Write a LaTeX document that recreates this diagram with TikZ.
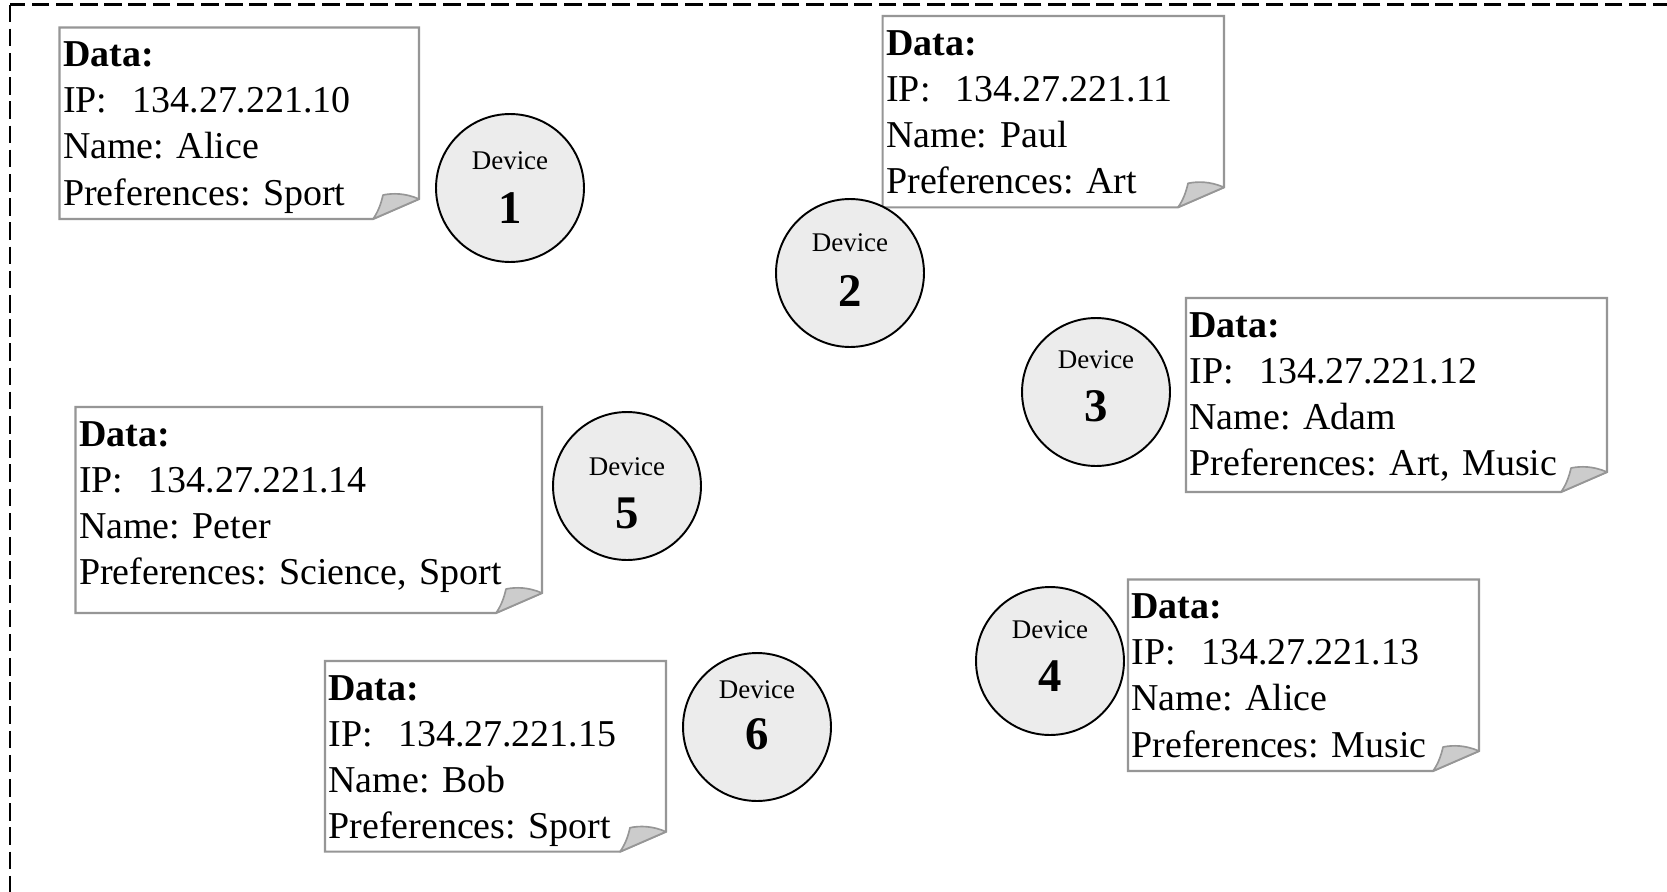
\documentclass[tikz,border=0pt]{standalone}
\usepackage{fontspec}
\setmainfont{Liberation Serif}
\frenchspacing
\definecolor{notegray}{RGB}{150,150,150}
\definecolor{foldgray}{RGB}{204,204,204}
\definecolor{devfill}{RGB}{236,236,236}

% A data sheet with a curled lower right corner:
% #1 name, #2 left, #3 top, #4 right, #5 bottom, #6 contents
\newcommand\datanote[6]{%
  \draw[noteline] (#2,#3) -- (#4,#3) -- (#4,#5-20) -- (#4-46,#5) -- (#2,#5) -- cycle;
  \filldraw[notefold] (#4,#5-20) .. controls (#4-14,#5-26) and (#4-26,#5-26) .. (#4-36,#5-24)
     .. controls (#4-38,#5-15) and (#4-41,#5-7) .. (#4-46,#5) -- cycle;
  \node[notetext] (#1) at (#2+3,#3+39) {#6};
}
% A device: circle with its caption and number
% #1 name, #2 x, #3 y, #4 number, #5 caption raise, #6 number raise
\newcommand\device[6]{%
  \node[devcircle] (#1) at (#2,#3) {};
  \node[devword] (#1-word) at ([yshift=#5]#1.center) {Device};
  \node[devnum] (#1-num) at ([yshift=#6]#1.center) {#4};
}

\begin{document}
\begin{tikzpicture}[x=0.3636pt,y=-0.3636pt,
  frame/.style={draw=black,line width=0.75pt,dash pattern=on 6.4pt off 2.4pt},
  noteline/.style={draw=notegray,line width=0.75pt,fill=white,line join=miter},
  notefold/.style={draw=notegray,line width=0.6pt,fill=foldgray,line join=round},
  notetext/.style={anchor=base west,inner sep=0pt,align=left,text width=180pt,
    font=\fontsize{13.8}{16.8}\selectfont},
  devcircle/.style={circle,draw=black,line width=0.7pt,fill=devfill,
    minimum size=53.8pt,inner sep=0pt},
  devword/.style={anchor=base,inner sep=0pt,font=\fontsize{9.8}{11}\selectfont},
  devnum/.style={anchor=base,inner sep=0pt,font=\fontsize{17}{20}\selectfont\bfseries},
]
\useasboundingbox (0,0) rectangle (1667,891);
\clip (0,0) rectangle (1667,891);
\fill[white] (0,0) rectangle (1667,891);

% dashed enclosure, running past the right and bottom edges
\draw[frame] (10,4.5) rectangle (1720,940);

\datanote{n1}{59.5}{27.5}{419}{219}{\textbf{Data:}\\IP:\ \ 134.27.221.10\\Name: Alice\\Preferences: Sport}
\datanote{n2}{882.7}{16}{1224}{207.3}{\textbf{Data:}\\IP:\ \ 134.27.221.11\\Name: Paul\\Preferences: Art}
\datanote{n3}{1186}{298}{1607}{492}{\textbf{Data:}\\IP:\ \ 134.27.221.12\\Name: Adam\\Preferences: Art, Music}
\datanote{n4}{1128}{579.5}{1479}{771}{\textbf{Data:}\\IP:\ \ 134.27.221.13\\Name: Alice\\Preferences: Music}
\datanote{n5}{75.5}{407}{542}{613}{\textbf{Data:}\\IP:\ \ 134.27.221.14\\Name: Peter\\Preferences: Science, Sport}
\datanote{n6}{325}{661}{666}{851.7}{\textbf{Data:}\\IP:\ \ 134.27.221.15\\Name: Bob\\Preferences: Sport}

\device{d1}{510}{188}{1}{6.7pt}{-13pt}
\device{d2}{850}{273}{2}{7.8pt}{-12.2pt}
\device{d3}{1096}{392}{3}{8.6pt}{-10.7pt}
\device{d4}{1050}{661}{4}{8.2pt}{-11pt}
\device{d5}{627}{486}{5}{4pt}{-15.3pt}
\device{d6}{757}{727}{6}{10.5pt}{-8.3pt}
\end{tikzpicture}
\end{document}
